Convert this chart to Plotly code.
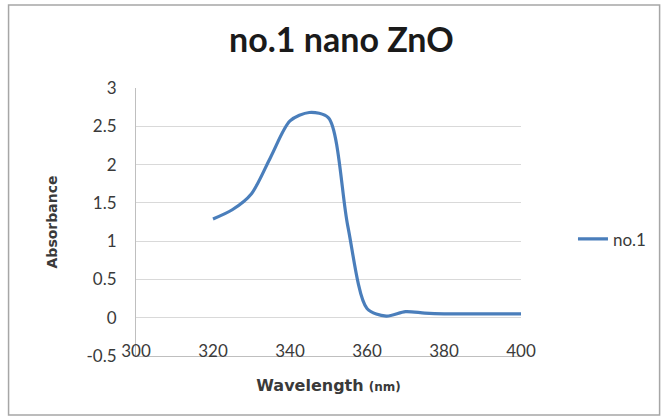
import plotly.graph_objects as go

# Data
wavelength = [320, 325, 330, 335, 340, 345, 350, 355, 360, 365, 370, 375, 380, 385, 390, 395, 400]
absorbance = [1.29, 1.41, 1.62, 2.10, 2.57, 2.68, 2.61, 1.20, 0.12, 0.02, 0.08, 0.06, 0.05, 0.05, 0.05, 0.05, 0.05]
series_name = "no.1"

x_tick_vals = [300, 320, 340, 360, 380, 400]
x_tick_text = ["300", "320", "340", "360", "380", "400"]
y_tick_vals = [-0.5, 0, 0.5, 1, 1.5, 2, 2.5, 3]
y_tick_text = ["-0.5", "0", "0.5", "1", "1.5", "2", "2.5", "3"]

FONT = "Lato"
AXFONT = "DejaVu Sans"
TXT = "#3a3a3a"

fig = go.Figure()
fig.add_trace(go.Scatter(
    x=wavelength, y=absorbance, name=series_name, mode="lines",
    line=dict(color="#4A7EBB", width=3.2, shape="spline", smoothing=0.8),
))

fig.update_layout(
    width=668, height=420,
    margin=dict(l=136, r=147, t=88, b=64),
    paper_bgcolor="white", plot_bgcolor="white",
    font=dict(family=FONT, color=TXT, size=16),
    title=dict(text="<b>no.1 nano ZnO</b>", x=0.511, xanchor="center", y=0.905, yanchor="middle",
               font=dict(family=FONT, size=34, color="#1a1a1a")),
    showlegend=True,
    legend=dict(x=1.135, y=0.435, xanchor="left", yanchor="middle",
                font=dict(family=FONT, size=17, color=TXT),
                bgcolor="rgba(0,0,0,0)", itemwidth=30),
    xaxis=dict(range=[300, 400], tickvals=x_tick_vals, ticktext=x_tick_text,
               showgrid=False, zeroline=False, showline=True, linecolor="#bfbfbf", linewidth=1,
               ticks="", ticklabelstandoff=-20,
               tickfont=dict(family=FONT, size=17, color=TXT),
               title=dict(text="<b>Wavelength</b> <span style='font-size:12px'><b>(nm)</b></span>",
                          font=dict(family=AXFONT, size=16, color=TXT), standoff=19)),
    yaxis=dict(range=[-0.5, 3], tickvals=y_tick_vals, ticktext=y_tick_text,
               showgrid=True, gridcolor="#d9d9d9", gridwidth=1, zeroline=False,
               showline=True, linecolor="#bfbfbf", linewidth=1, ticks="",
               ticklabelstandoff=15,
               tickfont=dict(family=FONT, size=17, color=TXT),
               title=dict(text="<b>Absorbance</b>", font=dict(family=AXFONT, size=14, color=TXT), standoff=25)),
)

# chart frame
fig.add_shape(type="rect", xref="paper", yref="paper",
              x0=-0.331, x1=1.36, y0=-0.22, y1=1.31,
              line=dict(color="#a6a6a6", width=1.5), fillcolor="rgba(0,0,0,0)")

fig.write_html("out.html")
